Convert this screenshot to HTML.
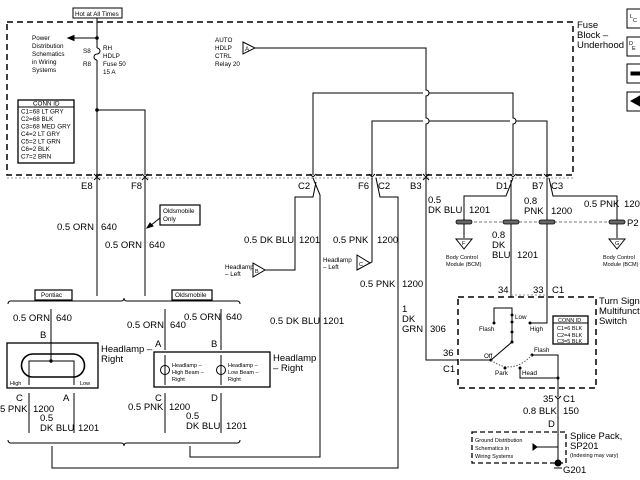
<!DOCTYPE html>
<html><head><meta charset="utf-8"><style>
html,body{margin:0;padding:0;background:#fff;}
svg{display:block;}
text{font-family:"Liberation Sans",sans-serif;fill:#000;}
.m{font-size:9.5px;}
.s{font-size:6.3px;}
.t{font-size:5.5px;}
</style></head><body>
<svg width="640" height="480" viewBox="0 0 640 480" xmlns="http://www.w3.org/2000/svg" fill="none" stroke="#000" stroke-width="1">
<path d="M7,22 H573 V175 H7 Z" stroke-dasharray="6,4" stroke-width="1.5"/>
<line x1="7" y1="178" x2="573" y2="178" stroke="#999" stroke-dasharray="2,2"/>
<text class="m" x="577" y="28" stroke="none">Fuse</text>
<text class="m" x="577" y="38" stroke="none">Block –</text>
<text class="m" x="577" y="48" stroke="none">Underhood</text>
<rect x="627" y="9" width="14" height="19"/><text class="t" x="630" y="18" stroke="none">L</text><text class="t" x="633" y="22" stroke="none">C</text>
<rect x="627" y="37" width="14" height="19"/><text class="t" x="629" y="45" stroke="none">D</text><text class="t" x="632" y="50" stroke="none">E</text>
<rect x="627" y="64" width="14" height="19"/><rect x="631" y="72" width="10" height="3" fill="#000"/>
<rect x="627" y="92" width="14" height="19"/><path d="M631,101 L640,96 V106 Z" fill="#000"/>
<rect x="73" y="8" width="49" height="10"/>
<text class="s" x="75" y="16" stroke="none">Hot at All Times</text>
<line x1="97" y1="18" x2="97" y2="48"/>
<path d="M97,48 a3,3 0 0 1 0,6 a3,3 0 0 0 0,6"/>
<line x1="97" y1="60" x2="97" y2="175"/>
<circle cx="97" cy="38" r="1.3" fill="#000"/>
<line x1="97" y1="38" x2="72" y2="38"/><path d="M68,38 L74,35.5 V40.5 Z" fill="#000"/>
<text class="s" x="32" y="40" stroke="none">Power</text>
<text class="s" x="32" y="48" stroke="none">Distribution</text>
<text class="s" x="32" y="56" stroke="none">Schematics</text>
<text class="s" x="32" y="64" stroke="none">in Wiring</text>
<text class="s" x="32" y="72" stroke="none">Systems</text>
<text class="s" x="83" y="53" stroke="none">S8</text>
<text class="s" x="83" y="66" stroke="none">R8</text>
<text class="s" x="103" y="50" stroke="none">RH</text>
<text class="s" x="103" y="58" stroke="none">HDLP</text>
<text class="s" x="103" y="66" stroke="none">Fuse 50</text>
<text class="s" x="103" y="74" stroke="none">15 A</text>
<rect x="18" y="100" width="56" height="63" stroke-width="1.3"/>
<line x1="18" y1="107" x2="74" y2="107"/>
<text class="s" x="33" y="105.5" stroke="none">CONN ID</text>
<text class="s" x="21" y="113.5" stroke="none">C1=68 LT GRY</text>
<text class="s" x="21" y="121" stroke="none">C2=68 BLK</text>
<text class="s" x="21" y="128.5" stroke="none">C3=68 MED GRY</text>
<text class="s" x="21" y="136" stroke="none">C4=2 LT GRY</text>
<text class="s" x="21" y="143.5" stroke="none">C5=2 LT GRN</text>
<text class="s" x="21" y="151" stroke="none">C6=2 BLK</text>
<text class="s" x="21" y="158.5" stroke="none">C7=2 BRN</text>
<circle cx="97" cy="110" r="1.3" fill="#000"/>
<path d="M97,110 H145 V175"/>
<path d="M243,42 L255,48 L243,54 Z"/><text class="s" x="245" y="51" stroke="none">A</text>
<text class="s" x="215" y="42" stroke="none">AUTO</text>
<text class="s" x="215" y="50" stroke="none">HDLP</text>
<text class="s" x="215" y="58" stroke="none">CTRL</text>
<text class="s" x="215" y="66" stroke="none">Relay 20</text>
<path d="M255,48 H426 V90 a3,3 0 0 1 0,6 V118 a3,3 0 0 1 0,6 V175"/>
<path d="M313,175 V93 H423 M429,93 H513 V118 a3,3 0 0 1 0,6 V175"/>
<path d="M372,175 V121 H423 M429,121 H510 M516,121 H547 V175"/>
<g stroke-width="0.9">
<path d="M94,174 l3,3 l3,-3 M94,180 l3,-3 l3,3"/>
<path d="M142,174 l3,3 l3,-3 M142,180 l3,-3 l3,3"/>
<path d="M310,174 l3,3 l3,-3"/>
<path d="M369,174 l3,3 l3,-3"/>
<path d="M423,174 l3,3 l3,-3 M423,180 l3,-3 l3,3"/>
<path d="M510,174 l3,3 l3,-3"/>
<path d="M544,174 l3,3 l3,-3"/>
</g>
<text class="m" x="81" y="189" stroke="none">E8</text>
<text class="m" x="131" y="189" stroke="none">F8</text>
<text class="m" x="298" y="189" stroke="none">C2</text>
<text class="m" x="358" y="189" stroke="none">F6</text>
<text class="m" x="378" y="189" stroke="none">C2</text>
<text class="m" x="410" y="189" stroke="none">B3</text>
<text class="m" x="496" y="189" stroke="none">D1</text>
<text class="m" x="532" y="189" stroke="none">B7</text>
<text class="m" x="551" y="189" stroke="none">C3</text>
<line x1="97" y1="178" x2="97" y2="296"/>
<line x1="145" y1="178" x2="145" y2="296"/>
<text class="m" x="57" y="230" stroke="none">0.5 ORN</text><text class="m" x="101" y="230" stroke="none">640</text>
<text class="m" x="105" y="248" stroke="none">0.5 ORN</text><text class="m" x="149" y="248" stroke="none">640</text>
<rect x="160" y="205" width="40" height="20" stroke-width="1.2"/>
<text class="s" x="163" y="213" stroke="none">Oldsmobile</text>
<text class="s" x="163" y="221" stroke="none">Only</text>
<line x1="160" y1="218" x2="150" y2="226"/><path d="M147,228 l3,-5 l3,3 Z" fill="#000"/>
<path d="M313,178 L320,195 V457 H190 V446"/>
<path d="M316,182 L313,197 H295 V270 H265"/>
<path d="M253,263 L265,270 L253,277 Z"/><text class="t" x="255" y="273" stroke="none">B</text>
<text class="s" x="225" y="269" stroke="none">Headlamp</text><text class="s" x="225" y="276" stroke="none">– Left</text>
<text class="m" x="244" y="243" stroke="none">0.5 DK BLU</text><text class="m" x="299" y="243" stroke="none">1201</text>
<text class="m" x="270" y="324" stroke="none">0.5 DK BLU</text><text class="m" x="323" y="324" stroke="none">1201</text>
<path d="M372,178 V262 L370,263"/>
<path d="M357,255 L370,263 L357,270 Z"/><text class="t" x="359" y="266" stroke="none">C</text>
<text class="s" x="323" y="262" stroke="none">Headlamp</text><text class="s" x="323" y="269" stroke="none">– Left</text>
<text class="m" x="333" y="243" stroke="none">0.5 PNK</text><text class="m" x="377" y="243" stroke="none">1200</text>
<path d="M376,178 L380,197 H398 V468 H52 V446"/>
<text class="m" x="360" y="287" stroke="none">0.5 PNK</text><text class="m" x="402" y="287" stroke="none">1200</text>
<path d="M426,178 V360 H458"/>
<text class="m" x="402" y="312" stroke="none">1</text>
<text class="m" x="402" y="322" stroke="none">DK</text>
<text class="m" x="402" y="332" stroke="none">GRN</text><text class="m" x="430" y="332" stroke="none">306</text>
<text class="m" x="443" y="356" stroke="none">36</text>
<text class="m" x="443" y="372" stroke="none">C1</text>
<path d="M513,178 L506,196 H464 V238"/>
<line x1="511" y1="180" x2="511" y2="297"/>
<path d="M547,178 V297"/>
<path d="M549,178 L553,196 H617 V238"/>
<text class="m" x="428" y="203" stroke="none">0.5</text>
<text class="m" x="428" y="213" stroke="none">DK BLU</text><text class="m" x="469" y="213" stroke="none">1201</text>
<text class="m" x="524" y="204" stroke="none">0.8</text>
<text class="m" x="524" y="214" stroke="none">PNK</text><text class="m" x="551" y="214" stroke="none">1200</text>
<text class="m" x="584" y="207" stroke="none">0.5 PNK</text><text class="m" x="624" y="207" stroke="none">1200</text>
<text class="m" x="492" y="238" stroke="none">0.8</text>
<text class="m" x="492" y="248" stroke="none">DK</text>
<text class="m" x="492" y="258" stroke="none">BLU</text><text class="m" x="517" y="258" stroke="none">1201</text>
<line x1="464" y1="222" x2="617" y2="222" stroke="#777" stroke-dasharray="3,2"/>
<g fill="#666" stroke="#000" stroke-width="0.8">
<rect x="456" y="220" width="16" height="4" rx="2"/>
<rect x="503" y="220" width="16" height="4" rx="2"/>
<rect x="539" y="220" width="16" height="4" rx="2"/>
<rect x="609" y="220" width="16" height="4" rx="2"/>
</g>
<text class="m" x="627" y="226" stroke="none">P2</text>
<path d="M456,239 H472 L464,249 Z"/><text class="t" x="462" y="245" stroke="none">F</text>
<path d="M609,239 H625 L617,249 Z"/><text class="t" x="615" y="245" stroke="none">G</text>
<text class="t" x="446" y="259" stroke="none">Body Control</text><text class="t" x="446" y="266" stroke="none">Module (BCM)</text>
<text class="t" x="603" y="259" stroke="none">Body Control</text><text class="t" x="603" y="266" stroke="none">Module (BCM)</text>
<path d="M458,297 H596 V388 H458 Z" stroke-dasharray="6,4" stroke-width="1.5"/>
<line x1="511" y1="295" x2="547" y2="295" stroke="#999" stroke-dasharray="2,2"/>
<text class="m" x="498" y="293" stroke="none">34</text>
<text class="m" x="533" y="293" stroke="none">33</text>
<text class="m" x="552" y="293" stroke="none">C1</text>
<text class="m" x="599" y="304" stroke="none">Turn Signal</text>
<text class="m" x="599" y="314" stroke="none">Multifunction</text>
<text class="m" x="599" y="324" stroke="none">Switch</text>
<path d="M494,323 V308 H512 V342 L491,360 H460"/>
<path d="M547,297 V323 H530"/>
<g fill="#000" stroke="none">
<circle cx="494" cy="323" r="1.5"/><circle cx="530" cy="323" r="1.5"/>
<circle cx="512" cy="315" r="1.5"/><circle cx="512" cy="322" r="1.5"/><circle cx="512" cy="332" r="1.5"/><circle cx="512" cy="342" r="1.5"/>
<circle cx="491" cy="360" r="1.5"/><circle cx="505" cy="368" r="1.5"/><circle cx="520" cy="368" r="1.5"/><circle cx="532" cy="355" r="1.5"/><circle cx="558" cy="378" r="1.5"/>
</g>
<path d="M491,360 Q512,376 532,355" stroke-dasharray="1.5,1.5" stroke="#555"/>
<path d="M520,368 V378 H558 M532,355 H558 V397"/>
<text class="s" x="479" y="331" stroke="none">Flash</text>
<text class="s" x="515" y="319" stroke="none">Low</text>
<text class="s" x="530" y="331" stroke="none">High</text>
<text class="s" x="484" y="358" stroke="none">Off</text>
<text class="s" x="495" y="375" stroke="none">Park</text>
<text class="s" x="522" y="375" stroke="none">Head</text>
<text class="s" x="534" y="352" stroke="none">Flash</text>
<rect x="553" y="316" width="35" height="28" stroke-width="1.3"/>
<line x1="553" y1="323" x2="588" y2="323"/>
<text class="t" x="558" y="322" stroke="none">CONN ID</text>
<text class="t" x="557" y="330" stroke="none">C1=6 BLK</text>
<text class="t" x="557" y="337" stroke="none">C2=4 BLK</text>
<text class="t" x="557" y="343" stroke="none">C3=5 BLK</text>
<path d="M555,396 l3,3 l3,-3"/>
<text class="m" x="543" y="402" stroke="none">35</text>
<text class="m" x="563" y="402" stroke="none">C1</text>
<line x1="558" y1="399" x2="558" y2="462"/>
<text class="m" x="523" y="414" stroke="none">0.8 BLK</text><text class="m" x="563" y="414" stroke="none">150</text>
<text class="m" x="548" y="427" stroke="none">D</text>
<path d="M472,432 H566 V463 H472 Z" stroke-dasharray="5,3" stroke-width="1.3"/>
<text class="m" x="570" y="439" stroke="none">Splice Pack,</text>
<text class="m" x="570" y="449" stroke="none">SP201</text>
<text class="t" x="570" y="457" stroke="none">(Indexing may vary)</text>
<text class="t" x="475" y="442" stroke="none">Ground Distribution</text>
<text class="t" x="475" y="450" stroke="none">Schematics in</text>
<text class="t" x="475" y="458" stroke="none">Wiring Systems</text>
<path d="M534,447 H558"/><path d="M533,444 L537,447 L533,450 Z" fill="#000"/>
<circle cx="558" cy="463" r="3" fill="#000"/>
<line x1="554" y1="468" x2="562" y2="468"/>
<text class="m" x="563" y="473" stroke="none">G201</text>
<rect x="35" y="290" width="37" height="10" stroke-width="1.2"/><text class="s" x="41" y="297" stroke="none">Pontiac</text>
<rect x="172" y="290" width="40" height="10" stroke-width="1.2"/><text class="s" x="175" y="297" stroke="none">Oldsmobile</text>
<path d="M8,304 Q8,301 11,301 H121 Q124,301 124,298 Q124,301 127,301 H237 Q240,301 240,304"/>
<path d="M8,440 Q8,443 11,443 H121 Q124,443 124,446 Q124,443 127,443 H237 Q240,443 240,440"/>
<rect x="7" y="343" width="91" height="45" stroke-width="1.3"/>
<path d="M33,354 H73 A11,11 0 0 1 73,377 H33 A11,11 0 0 1 33,354 Z" stroke-width="1.6"/>
<path d="M29,372 V361 H74 V372"/>
<line x1="51" y1="309" x2="51" y2="361"/>
<line x1="29" y1="372" x2="29" y2="385"/><line x1="74" y1="372" x2="74" y2="385"/>
<circle cx="51" cy="361" r="1.2" fill="#000"/>
<text class="t" x="10" y="385" stroke="none">High</text><text class="t" x="80" y="385" stroke="none">Low</text>
<text class="m" x="13" y="321" stroke="none">0.5 ORN</text><text class="m" x="56" y="321" stroke="none">640</text>
<text class="m" x="40" y="338" stroke="none">B</text>
<text class="m" x="101" y="352" stroke="none">Headlamp –</text>
<text class="m" x="101" y="362" stroke="none">Right</text>
<line x1="29" y1="393" x2="29" y2="433"/><line x1="74" y1="393" x2="74" y2="433"/>
<text class="m" x="16" y="401" stroke="none">C</text><text class="m" x="63" y="401" stroke="none">A</text>
<text class="m" x="0" y="412" stroke="none">5 PNK</text><text class="m" x="33" y="412" stroke="none">1200</text>
<text class="m" x="40" y="421" stroke="none">0.5</text>
<text class="m" x="40" y="431" stroke="none">DK BLU</text><text class="m" x="78" y="431" stroke="none">1201</text>
<rect x="154" y="352" width="116" height="35" stroke-width="1.3"/>
<line x1="165" y1="309" x2="165" y2="350"/><line x1="221" y1="309" x2="221" y2="350"/>
<line x1="165" y1="355" x2="165" y2="385"/><line x1="221" y1="355" x2="221" y2="385"/>
<circle cx="165" cy="370" r="4.5"/><circle cx="221" cy="370" r="4.5"/>
<text class="t" x="172" y="367" stroke="none">Headlamp –</text>
<text class="t" x="172" y="374" stroke="none">High Beam –</text>
<text class="t" x="172" y="381" stroke="none">Right</text>
<text class="t" x="228" y="367" stroke="none">Headlamp –</text>
<text class="t" x="228" y="374" stroke="none">Low Beam –</text>
<text class="t" x="228" y="381" stroke="none">Right</text>
<text class="m" x="127" y="328" stroke="none">0.5 ORN</text><text class="m" x="170" y="328" stroke="none">640</text>
<text class="m" x="184" y="320" stroke="none">0.5 ORN</text><text class="m" x="226" y="320" stroke="none">640</text>
<text class="m" x="155" y="347" stroke="none">A</text><text class="m" x="211" y="347" stroke="none">B</text>
<text class="m" x="273" y="361" stroke="none">Headlamp</text>
<text class="m" x="273" y="371" stroke="none">– Right</text>
<line x1="165" y1="393" x2="165" y2="433"/><line x1="221" y1="393" x2="221" y2="433"/>
<text class="m" x="155" y="401" stroke="none">C</text><text class="m" x="211" y="401" stroke="none">D</text>
<text class="m" x="128" y="410" stroke="none">0.5 PNK</text><text class="m" x="169" y="410" stroke="none">1200</text>
<text class="m" x="186" y="419" stroke="none">0.5</text>
<text class="m" x="186" y="429" stroke="none">DK BLU</text><text class="m" x="226" y="429" stroke="none">1201</text>
</svg>
</body></html>
